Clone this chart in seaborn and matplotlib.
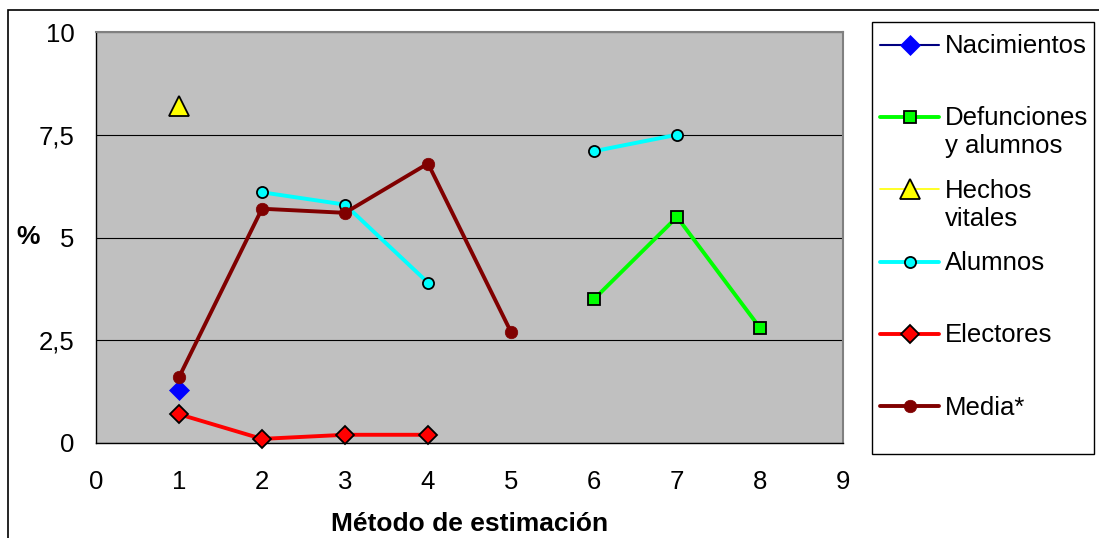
import numpy as np
import pandas as pd
import matplotlib
matplotlib.use("Agg")
import matplotlib.pyplot as plt
from matplotlib.lines import Line2D
from matplotlib.patches import Rectangle
import seaborn as sns

# ---- data -------------------------------------------------------------
metodo = [1, 2, 3, 4, 5, 6, 7, 8]
nacimientos = [1.3, np.nan, np.nan, np.nan, np.nan, np.nan, np.nan, np.nan]
defunciones_alumnos = [np.nan, np.nan, np.nan, np.nan, np.nan, 3.5, 5.5, 2.8]
hechos_vitales = [8.2, np.nan, np.nan, np.nan, np.nan, np.nan, np.nan, np.nan]
alumnos = [np.nan, 6.1, 5.8, 3.9, np.nan, 7.1, 7.5, np.nan]
electores = [0.7, 0.1, 0.2, 0.2, np.nan, np.nan, np.nan, np.nan]
media = [1.6, 5.7, 5.6, 6.8, 2.7, np.nan, np.nan, np.nan]

series_names = ["Nacimientos", "Defunciones\ny alumnos", "Hechos\nvitales",
                "Alumnos", "Electores", "Media*"]
y_ticks = [0, 2.5, 5, 7.5, 10]
y_tick_labels = ["0", "2,5", "5", "7,5", "10"]
x_ticks = list(range(0, 10))

# ---- style ------------------------------------------------------------
sns.set_theme(style="white")
plt.rcParams["font.family"] = ["Liberation Sans", "DejaVu Sans"]
for key in ["text.color", "axes.labelcolor", "xtick.color", "ytick.color"]:
    plt.rcParams[key] = "black"

FS = 18.5

styles = [
    dict(color="#000080", lw=1.5, marker="D", ms=10.5, mfc="#0000FF", mec="#0000FF", mew=0.5),
    dict(color="#00FF00", lw=2.8, marker="s", ms=8.5, mfc="#00FF00", mec="black", mew=1.3),
    dict(color="#FFFF00", lw=1.2, marker="^", ms=14, mfc="#FFFF00", mec="black", mew=1.3),
    dict(color="#00FFFF", lw=2.8, marker="o", ms=8, mfc="#00FFFF", mec="black", mew=1.3),
    dict(color="#FF0000", lw=2.8, marker="D", ms=9, mfc="#FF0000", mec="black", mew=1.3),
    dict(color="#800000", lw=2.8, marker="o", ms=9, mfc="#800000", mec="#800000", mew=0.5),
]
all_series = [nacimientos, defunciones_alumnos, hechos_vitales, alumnos, electores, media]

fig = plt.figure(figsize=(10.99, 5.38), dpi=100)
ax = fig.add_axes([96 / 1099, 1 - 443 / 538, 747 / 1099, 411 / 538])
ax.set_facecolor("#C0C0C0")


def draw_series(ax, xs, ys, st, order):
    """Draw a series, breaking the line wherever a value is missing."""
    df = pd.DataFrame({"x": xs, "y": ys})
    df["run"] = df["y"].isna().cumsum()
    df = df.dropna()
    for _, part in df.groupby("run"):
        sns.lineplot(data=part, x="x", y="y", ax=ax, sort=False, estimator=None,
                     errorbar=None, legend=False, color=st["color"], linewidth=st["lw"],
                     marker=st["marker"], markersize=st["ms"], markerfacecolor=st["mfc"],
                     markeredgecolor=st["mec"], markeredgewidth=st["mew"],
                     zorder=3 + order, clip_on=False)


for i, (ys, st) in enumerate(zip(all_series, styles)):
    draw_series(ax, metodo, ys, st, i)

# ---- axes -------------------------------------------------------------
ax.set_xlim(0, 9)
ax.set_ylim(0, 10)
ax.set_xticks(x_ticks)
ax.set_xticklabels([str(t) for t in x_ticks], fontsize=FS)
ax.set_yticks(y_ticks)
ax.set_yticklabels(y_tick_labels, fontsize=FS)
ax.tick_params(axis="x", direction="out", length=6.5, width=1, color="black",
               labelcolor="black", pad=13)
ax.tick_params(axis="y", direction="out", length=6, width=1, color="black",
               labelcolor="black", pad=9.5)
ax.yaxis.grid(True, color="black", linewidth=0.8)
ax.xaxis.grid(False)
ax.set_axisbelow(True)
for side in ["left", "bottom"]:
    ax.spines[side].set_color("black")
    ax.spines[side].set_linewidth(1.0)
for side in ["top", "right"]:
    ax.spines[side].set_color("#808080")
    ax.spines[side].set_linewidth(1.5)

ax.set_xlabel("Método de estimación", fontsize=19, fontweight="bold", color="black")
ax.xaxis.set_label_coords(0.5, -0.197)
ax.xaxis.label.set_va("center")
ax.set_ylabel("%", fontsize=19, fontweight="bold", rotation=0, color="black")
ax.yaxis.set_label_coords(-0.091, 0.5)
ax.yaxis.label.set_va("center")
ax.yaxis.label.set_ha("center")

# ---- chart border and legend box ---------------------------------------
fig.add_artist(Rectangle((8 / 1099, -0.05), 1.2, 1 - 10 / 538 + 0.05,
                         transform=fig.transFigure, fill=False,
                         edgecolor="black", linewidth=1.2))
fig.add_artist(Rectangle((872 / 1099, 1 - 454 / 538), 222 / 1099, 432 / 538,
                         transform=fig.transFigure, fill=False,
                         edgecolor="black", linewidth=1.0))

handles = [Line2D([], [], color=st["color"], linewidth=st["lw"], marker=st["marker"],
                  markersize=st["ms"], markerfacecolor=st["mfc"],
                  markeredgecolor=st["mec"], markeredgewidth=st["mew"])
           for st in styles]
# every entry gets two text lines so the rows are evenly spaced
labels = [n if "\n" in n else n + "\n" for n in series_names]
leg = fig.legend(handles, labels, loc="upper left",
                 bbox_to_anchor=(880 / 1099, 1 - 34 / 538),
                 bbox_transform=fig.transFigure, frameon=False, fontsize=FS,
                 handlelength=2.3, handleheight=1.1, handletextpad=0.22,
                 labelspacing=0.8, borderpad=0, borderaxespad=0)
for t in leg.get_texts():
    t.set_color("black")
for col in leg._legend_handle_box.get_children():
    for row in col.get_children():
        row.align = "top"

fig.savefig("out.png", dpi=100)
